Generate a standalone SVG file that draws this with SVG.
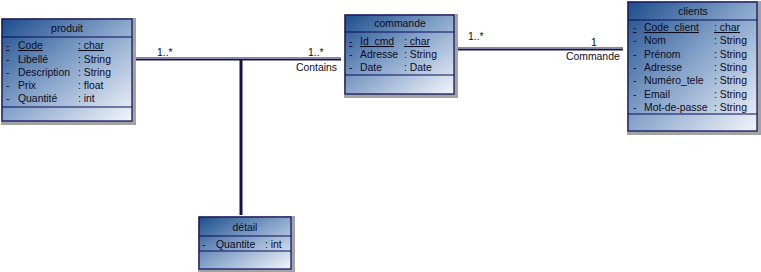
<svg xmlns="http://www.w3.org/2000/svg" width="761" height="272" viewBox="0 0 761 272">
  <defs>
    <linearGradient id="boxFill" x1="0" y1="0" x2="1" y2="1">
      <stop offset="0" stop-color="#1d4d8c"/>
      <stop offset="0.45" stop-color="#7f9ec6"/>
      <stop offset="1" stop-color="#f3f6fb"/>
    </linearGradient>
  </defs>
  <style>
    .shadow { fill: #a3a3a3; }
    .box { fill: url(#boxFill); stroke: #0b0b5a; stroke-width: 1.2; }
    .div { stroke: #0b0b5a; stroke-width: 1.2; }
    text { font-family: "Liberation Sans", Arial, sans-serif; font-size: 10.4px; fill: #0c0c1e; }
    .title { text-anchor: middle; }
    .u { text-decoration: underline; }
    .lnTop { stroke: #8a8aa6; stroke-width: 1; fill: none; }
    .lnDark { stroke: #13134a; stroke-width: 2; fill: none; }
    .lbl { fill: #ffffff; }
  </style>

  <!-- associations -->
  <g id="connectors">
    <!-- produit — commande (Contains) -->
    <line class="lnTop" x1="136" y1="57.5" x2="341" y2="57.5"/>
    <line class="lnDark" x1="136" y1="59.5" x2="341" y2="59.5"/>
    <!-- link to détail -->
    <line x1="241" y1="59" x2="241" y2="215" stroke="#13134a" stroke-width="3"/>
    <line x1="239.5" y1="61" x2="239.5" y2="215" stroke="#8a8aa6" stroke-width="1"/>
    <!-- commande — clients (Commande) -->
    <line class="lnTop" x1="457" y1="47.5" x2="623" y2="47.5"/>
    <line class="lnDark" x1="457" y1="49.5" x2="623" y2="49.5"/>

    <rect class="lbl" x="155" y="46" width="19" height="11"/>
    <text x="157" y="56">1..*</text>
    <rect class="lbl" x="306" y="46" width="19" height="11"/>
    <text x="308" y="56">1..*</text>
    <rect class="lbl" x="295" y="61" width="44" height="12"/>
    <text x="296" y="71">Contains</text>

    <rect class="lbl" x="466" y="30" width="19" height="11"/>
    <text x="468" y="40">1..*</text>
    <rect class="lbl" x="589" y="36" width="9" height="11"/>
    <text x="591" y="46">1</text>
    <rect class="lbl" x="564" y="51" width="59" height="11"/>
    <text x="566" y="60">Commande</text>
  </g>

  <!-- produit -->
  <g id="produit">
    <rect class="shadow" x="1" y="18" width="135" height="107"/>
    <rect class="box" x="2" y="19" width="130" height="102"/>
    <line class="div" x1="2" y1="37" x2="132" y2="37"/>
    <line class="div" x1="2" y1="107" x2="132" y2="107"/>
    <text class="title" x="67" y="32">produit</text>
    <text x="6" y="49" class="u">-</text><text x="18" y="49" class="u">Code</text><text x="78" y="49" class="u">: char</text>
    <text x="6" y="62.5">-</text><text x="18" y="62.5">Libellé</text><text x="78" y="62.5">: String</text>
    <text x="6" y="76">-</text><text x="18" y="76">Description</text><text x="78" y="76">: String</text>
    <text x="6" y="89">-</text><text x="18" y="89">Prix</text><text x="78" y="89">: float</text>
    <text x="6" y="102">-</text><text x="18" y="102">Quantité</text><text x="78" y="102">: int</text>
  </g>

  <!-- commande -->
  <g id="commande">
    <rect class="shadow" x="344" y="14" width="114" height="84"/>
    <rect class="box" x="345" y="15" width="109" height="79"/>
    <line class="div" x1="345" y1="32" x2="454" y2="32"/>
    <line class="div" x1="345" y1="75" x2="454" y2="75"/>
    <text class="title" x="400" y="27">commande</text>
    <text x="349" y="45" class="u">-</text><text x="360" y="45" class="u">Id_cmd</text><text x="404" y="45" class="u">: char</text>
    <text x="349" y="58">-</text><text x="360" y="58">Adresse</text><text x="404" y="58">: String</text>
    <text x="349" y="71">-</text><text x="360" y="71">Date</text><text x="404" y="71">: Date</text>
  </g>

  <!-- clients -->
  <g id="clients">
    <rect class="shadow" x="627" y="1" width="134" height="134"/>
    <rect class="box" x="628" y="2" width="129" height="129"/>
    <line class="div" x1="628" y1="20" x2="757" y2="20"/>
    <line class="div" x1="628" y1="114" x2="757" y2="114"/>
    <text class="title" x="693" y="15">clients</text>
    <text x="633" y="31" class="u">-</text><text x="644" y="31" class="u">Code_client</text><text x="714" y="31" class="u">: char</text>
    <text x="633" y="44.3">-</text><text x="644" y="44.3">Nom</text><text x="714" y="44.3">: String</text>
    <text x="633" y="57.6">-</text><text x="644" y="57.6">Prénom</text><text x="714" y="57.6">: String</text>
    <text x="633" y="70.9">-</text><text x="644" y="70.9">Adresse</text><text x="714" y="70.9">: String</text>
    <text x="633" y="84.2">-</text><text x="644" y="84.2">Numéro_tele</text><text x="714" y="84.2">: String</text>
    <text x="633" y="97.5">-</text><text x="644" y="97.5">Email</text><text x="714" y="97.5">: String</text>
    <text x="633" y="110.8">-</text><text x="644" y="110.8">Mot-de-passe</text><text x="714" y="110.8">: String</text>
  </g>

  <!-- détail -->
  <g id="detail">
    <rect class="shadow" x="198" y="216" width="97" height="56"/>
    <rect class="box" x="199" y="217" width="92" height="52"/>
    <line class="div" x1="199" y1="236" x2="291" y2="236"/>
    <line class="div" x1="199" y1="251" x2="291" y2="251"/>
    <text class="title" x="245" y="231">détail</text>
    <text x="202" y="248">-</text><text x="216" y="248">Quantite</text><text x="265" y="248">: int</text>
  </g>
</svg>
